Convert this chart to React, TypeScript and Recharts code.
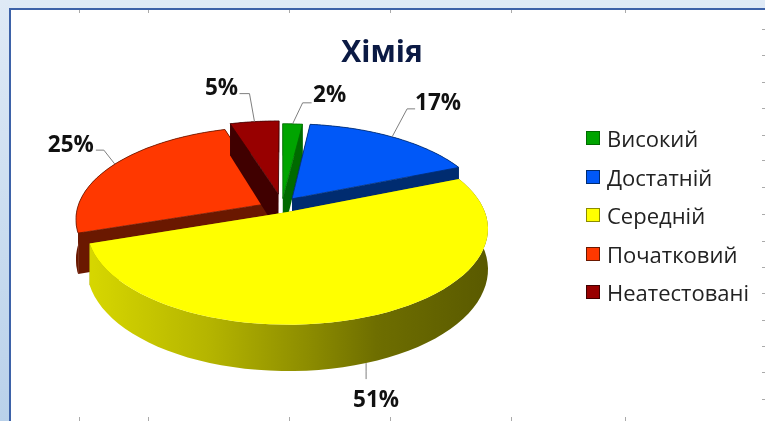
import { PieChart, Pie, Legend } from 'recharts'

const categories = ['Високий', 'Достатній', 'Середній', 'Початковий', 'Неатестовані']
const values = [2, 17, 51, 25, 5]
const faceColors = ['#00a400', '#0058f8', '#ffff00', '#ff3800', '#980000']
const wallColors = ['#006a00', '#002c70', '#8c8c00', '#6a1800', '#400000']
const explodes = [0.07, 0.085, 0.08, 0.05, 0.12]
// painter order: the yellow slice has to land on top of the others
const drawOrder = [3, 4, 0, 1, 2]

// label layout relative to the rim point of each slice: elbow, line end, text centre
const leaders: Record<string, number[][]> = {
  'Високий': [[10, -21], [19, -21], [37, -30]],
  'Достатній': [[15, -28], [23, -28], [46, -35]],
  'Середній': [[0, 8], [0, 16], [10, 35]],
  'Початковий': [[-11, -14], [-19, -14], [-44, -21]],
  'Неатестовані': [[-5, -28], [-15, -28], [-33, -35]],
}

const rulerX = [79, 148, 289, 390, 511, 625]
const rulerY = [29, 55, 82, 108, 135, 160, 187, 214, 241, 267, 293, 320, 346, 372, 399]

const total = values.reduce((a, b) => a + b, 0)
const before = drawOrder[0] === 0 ? 0 : values.slice(0, drawOrder[0]).reduce((a, b) => a + b, 0)
const startAngle = 90 - (before / total) * 360

const pieData = drawOrder.map((i) => ({
  name: categories[i],
  value: values[i],
  fill: faceColors[i],
  wall: wallColors[i],
  explode: explodes[i],
}))

const SQUASH = 0.48
const PERSPECTIVE = 0.176
const DEPTH = 39

// unit-circle point -> screen, nearer points are drawn larger
function project(cx: number, cy: number, r: number, u: number, v: number, down = 0) {
  const w = 1 + PERSPECTIVE * v
  return [cx + r * u * w, cy + r * SQUASH * v * w + down * w]
}

function rimPoint(a: number, mid: number, e: number) {
  const rad = (a * Math.PI) / 180
  const m = (mid * Math.PI) / 180
  return [Math.cos(rad) + Math.cos(m) * e, -Math.sin(rad) - Math.sin(m) * e]
}

function toPath(points: number[][]) {
  return 'M' + points.map((p) => `${p[0].toFixed(1)},${p[1].toFixed(1)}`).join('L') + 'Z'
}

function Slice3D(props: any) {
  const { cx, cy, outerRadius: r, startAngle: a0, endAngle: a1, midAngle: mid, fill, payload, name } = props
  const wall = payload?.wall ?? props.wall
  const e = payload?.explode ?? props.explode
  const id = `wall-${drawOrder.indexOf(categories.indexOf(payload?.name ?? name))}`
  const m = (mid * Math.PI) / 180
  const apex = [Math.cos(m) * e, -Math.sin(m) * e]
  const steps = 60
  const rim: number[][] = []
  for (let i = 0; i <= steps; i++) {
    rim.push(rimPoint(a0 + ((a1 - a0) * i) / steps, mid, e))
  }
  const top = (p: number[]) => project(cx, cy, r, p[0], p[1])
  const low = (p: number[]) => project(cx, cy, r, p[0], p[1], DEPTH)
  const face = [top(apex), ...rim.map(top)]
  const outer = [...rim.map(top), ...rim.slice().reverse().map(low)]
  const side0 = [top(apex), top(rim[0]), low(rim[0]), low(apex)]
  const side1 = [top(apex), top(rim[steps]), low(rim[steps]), low(apex)]
  const isYellow = fill === '#ffff00'
  return (
    <g>
      <defs>
        <linearGradient id={id} gradientUnits="userSpaceOnUse" x1={92} y1={0} x2={487} y2={0}>
          <stop offset="0%" stopColor="#d6d600" />
          <stop offset="30%" stopColor="#b4b400" />
          <stop offset="55%" stopColor="#8c8c00" />
          <stop offset="72%" stopColor="#6e6e00" />
          <stop offset="100%" stopColor="#5a5a00" />
        </linearGradient>
      </defs>
      <path d={toPath(side0)} fill={wall} />
      <path d={toPath(side1)} fill={wall} />
      <path d={toPath(outer)} fill={isYellow ? `url(#${id})` : wall} />
      <path d={toPath(face)} fill={fill} stroke={isYellow ? 'none' : wall} strokeWidth={isYellow ? 0 : 0.8} />
    </g>
  )
}

function SliceLabel(props: any) {
  const { cx, cy, outerRadius: r, midAngle: mid, index } = props
  const item = pieData[index]
  const [elbow, end, text] = leaders[item.name]
  const p = rimPoint(mid, mid, item.explode)
  const a = project(cx, cy, r, p[0], p[1], item.name === 'Середній' ? DEPTH : 0)
  return (
    <g>
      <polyline
        points={`${a[0]},${a[1]} ${a[0] + elbow[0]},${a[1] + elbow[1]} ${a[0] + end[0]},${a[1] + end[1]}`}
        fill="none"
        stroke="#7f7f7f"
        strokeWidth={1}
      />
      <text
        x={a[0] + text[0]}
        y={a[1] + text[1]}
        textAnchor="middle"
        dominantBaseline="central"
        fontFamily="'Open Sans', sans-serif"
        fontWeight={700}
        fontSize={22.5}
        fill="#111"
      >
        {item.value}%
      </text>
    </g>
  )
}

function LegendList() {
  return (
    <div>
      {categories.map((name, i) => (
        <div key={name} style={{ display: 'flex', alignItems: 'center', height: 38.5 }}>
          <span
            style={{
              width: 12,
              height: 12,
              marginRight: 7,
              background: faceColors[i],
              border: `1px solid ${wallColors[i]}`,
            }}
          />
          <span style={{ fontFamily: "'Open Sans', sans-serif", fontSize: 22, color: '#222', whiteSpace: 'nowrap' }}>{name}</span>
        </div>
      ))}
    </div>
  )
}

export default function App() {
  return (
    <div
      style={{
        position: 'absolute',
        left: 0,
        top: 0,
        width: 765,
        height: 421,
        overflow: 'hidden',
        filter: 'blur(0.5px)',
        background: 'linear-gradient(180deg, #dfeaf6 0%, #b9d1ea 100%)',
      }}
    >
      <div
        style={{
          position: 'absolute',
          left: 9,
          top: 8,
          width: 756,
          height: 413,
          background: '#fff',
          borderLeft: '2px solid #3d62a8',
          borderTop: '2px solid #3d62a8',
          boxSizing: 'border-box',
        }}
      />
      {rulerX.map((x) => (
        <div key={x}>
          <div style={{ position: 'absolute', left: x, top: 10, width: 1, height: 3, background: '#aaa' }} />
          <div style={{ position: 'absolute', left: x, top: 417, width: 1, height: 4, background: '#aaa' }} />
        </div>
      ))}
      {rulerY.map((y) => (
        <div key={y} style={{ position: 'absolute', left: 762, top: y, width: 3, height: 1, background: '#aaa' }} />
      ))}
      <div
        style={{
          position: 'absolute',
          left: 276,
          width: 212,
          top: 30,
          textAlign: 'center',
          fontFamily: "'Open Sans', sans-serif",
          fontWeight: 700,
          fontSize: 30,
          color: '#0b1a44',
        }}
      >
        Хімія
      </div>
      <div style={{ position: 'absolute', left: 0, top: 0 }}>
        <PieChart width={765} height={421} margin={{ top: 0, right: 0, bottom: 0, left: 0 }}>
          <Pie
            data={pieData}
            dataKey="value"
            nameKey="name"
            cx={282}
            cy={205}
            outerRadius={195}
            startAngle={startAngle}
            endAngle={startAngle - 360}
            stroke="none"
            shape={Slice3D}
            label={SliceLabel}
            labelLine={false}
            isAnimationActive={false}
          />
          <Legend
            layout="vertical"
            content={LegendList}
            wrapperStyle={{ left: 586, top: 119, width: 175 }}
          />
        </PieChart>
      </div>
    </div>
  )
}
